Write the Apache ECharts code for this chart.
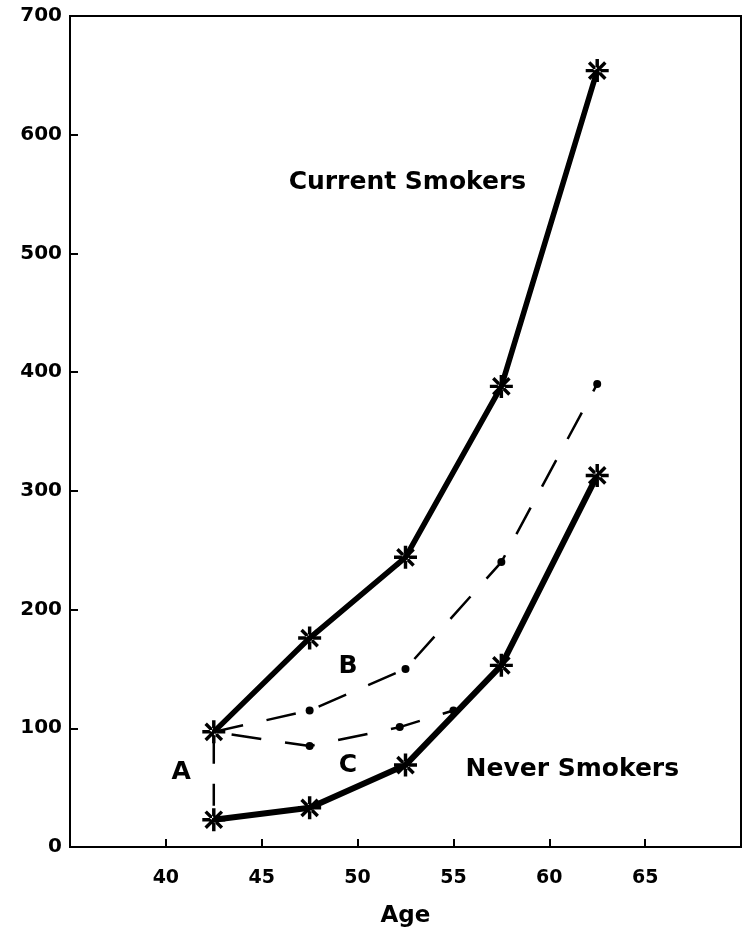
<!DOCTYPE html>
<html>
<head>
<meta charset="utf-8">
<script src="https://cdn.jsdelivr.net/npm/echarts@6/dist/echarts.min.js"></script>
<style>
  html, body { margin: 0; padding: 0; background: #fff; }
  #main { width: 744px; height: 935px; }
</style>
</head>
<body>
<div id="main"></div>
<script>
// ages are the midpoints of the 5-year groups
var ages = [42.5, 47.5, 52.5, 57.5, 62.5]
var currentSmokers = [97, 176, 244, 388, 654]
var neverSmokers = [23, 33, 69, 153, 313]
// dashed curve B
var bAges = [42.5, 47.5, 52.5, 57.5, 62.5]
var bValues = [97, 115, 150, 240, 390]
// dashed curve C, runs into the never smokers line
var cAges = [42.5, 47.5, 52.2, 55]
var cValues = [97, 85, 101, 115]
// vertical dashed line A
var aAges = [42.5, 42.5]
var aValues = [97, 23]
var xTicks = [40, 45, 50, 55, 60, 65]
// annotation texts and where they sit (data units)
var noteTexts = ['Current Smokers', 'Never Smokers', 'A', 'B', 'C']
var noteAges = [52.6, 61.2, 40.8, 49.5, 49.5]
var noteValues = [560, 65, 63, 152, 69]

var star = 'path://M-10,-1.5L10,-1.5L10,1.5L-10,1.5Z M-1.5,-10L1.5,-10L1.5,10L-1.5,10Z ' +
  'M-8.1,-6L6,8.1L8.1,6L-6,-8.1Z M-8.1,6L6,-8.1L8.1,-6L-6,8.1Z'

var pairs = (xs, ys) => xs.map((x, i) => [x, ys[i]])
var font = 'DejaVu Sans'

var myChart = echarts.init(document.getElementById('main'))

var dashedData = (xs, ys) => pairs(xs, ys).map((p, i) => {
  // no dot on the starting point, it sits on the current smokers star
  return i === 0 ? {value: p, symbolSize: 0} : {value: p}
})

var option = {
  backgroundColor: '#fff',
  animation: false,
  grid: {
    left: 70, right: 1, top: 16, bottom: 88,
    show: true, borderColor: '#000', borderWidth: 2
  },
  xAxis: {
    type: 'value',
    min: 35, max: 70, interval: 5,
    name: 'Age',
    nameLocation: 'middle',
    nameGap: 58,
    nameTextStyle: {fontFamily: font, fontWeight: 'bold', fontSize: 23, color: '#000'},
    axisLine: {show: true, lineStyle: {color: '#000', width: 2}},
    axisTick: {show: true, inside: true, length: 8, lineStyle: {color: '#000', width: 2}},
    axisLabel: {
      margin: 22,
      fontFamily: font, fontWeight: 'bold', fontSize: 19, color: '#000',
      formatter: (v) => xTicks.indexOf(v) >= 0 ? String(v) : ''
    },
    splitLine: {show: false}
  },
  yAxis: {
    type: 'value',
    min: 0, max: 700, interval: 100,
    axisLine: {show: true, lineStyle: {color: '#000', width: 2}},
    axisTick: {show: true, inside: true, length: 8, lineStyle: {color: '#000', width: 2}},
    axisLabel: {margin: 8, fontFamily: font, fontWeight: 'bold', fontSize: 20, color: '#000'},
    splitLine: {show: false}
  },
  series: [
    {
      name: 'Current Smokers',
      type: 'line',
      data: pairs(ages, currentSmokers),
      symbol: star, symbolSize: 23,
      itemStyle: {color: '#000'},
      lineStyle: {color: '#000', width: 5.5},
      z: 5
    },
    {
      name: 'Never Smokers',
      type: 'line',
      data: pairs(ages, neverSmokers),
      symbol: star, symbolSize: 23,
      itemStyle: {color: '#000'},
      lineStyle: {color: '#000', width: 6},
      z: 5
    },
    {
      name: 'B',
      type: 'line',
      data: dashedData(bAges, bValues),
      symbol: 'circle', symbolSize: 8,
      itemStyle: {color: '#000'},
      lineStyle: {color: '#000', width: 2.5, type: [30, 24]}
    },
    {
      name: 'C',
      type: 'line',
      data: dashedData(cAges, cValues),
      symbol: 'circle', symbolSize: 8,
      itemStyle: {color: '#000'},
      lineStyle: {color: '#000', width: 2.5, type: [30, 24], dashOffset: -18}
    },
    {
      name: 'A',
      type: 'line',
      data: pairs(aAges, aValues),
      symbol: 'none',
      lineStyle: {color: '#000', width: 2.5, type: [22, 20], dashOffset: -10}
    },
    {
      name: 'notes',
      type: 'scatter',
      symbolSize: 0,
      itemStyle: {opacity: 1, color: '#000'},
      data: noteTexts.map((t, i) => ({name: t, value: [noteAges[i], noteValues[i]]})),
      label: {
        show: true, position: [0, 0], align: 'center', verticalAlign: 'middle',
        formatter: '{b}',
        fontFamily: font, fontWeight: 'bold', fontSize: 25, color: '#000'
      },
      silent: true
    }
  ]
}
myChart.setOption(option)
</script>
</body>
</html>
